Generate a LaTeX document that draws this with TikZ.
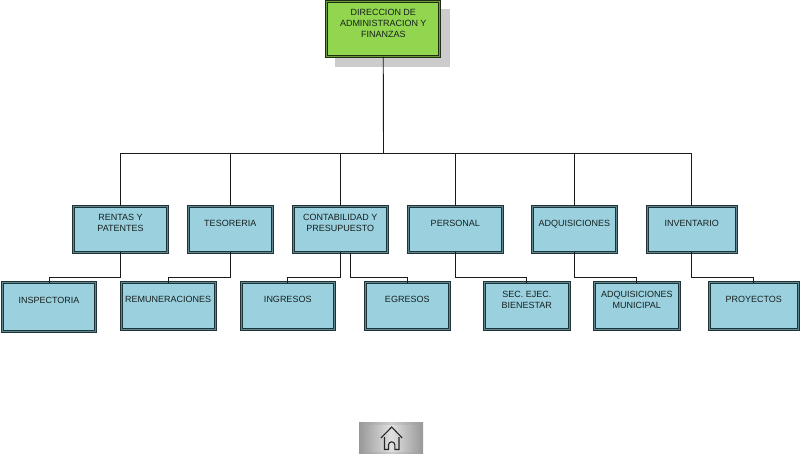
\documentclass[tikz,border=0pt]{standalone}
\usepackage{fontspec}
\setmainfont{Liberation Sans}
\definecolor{bluefill}{HTML}{9BD1DF}
\definecolor{greenfill}{HTML}{92D650}
\definecolor{edgeblue}{HTML}{1F3438}
\definecolor{gapblue}{HTML}{5F8790}
\definecolor{edgegreen}{HTML}{1E2E12}
\definecolor{gapgreen}{HTML}{6E9E3C}
\definecolor{shadowgray}{HTML}{CCCCCC}
\definecolor{linecol}{HTML}{1A1A1A}
\definecolor{textcol}{HTML}{16201F}
\tikzset{
  boxbase/.style={rectangle,inner sep=0pt,outer sep=0pt,line width=1pt,double distance=1pt,text=textcol},
  bluebox/.style={boxbase,draw=edgeblue,double=gapblue,fill=bluefill},
  greenbox/.style={boxbase,draw=edgegreen,double=gapgreen,fill=greenfill},
  wire/.style={draw=linecol,line width=0.9pt},
}
% style, name, x1, y1, x2, y2, baseline offset, text
\newcommand{\orgbox}[8]{%
  \pgfmathsetlengthmacro{\bw}{(#5-#3-2.6)*1pt}%
  \pgfmathsetlengthmacro{\bh}{(#6-#4-2.6)*1pt}%
  \node[#1] (#2) at ({(#3+#5)/2},{(#4+#6)/2})
    {\parbox[c][\bh][t]{\bw}{\fontsize{9pt}{11pt}\selectfont\centering\rule{0pt}{#7pt}#8\par}};%
}
\begin{document}
\begin{tikzpicture}[x=1pt,y=-1pt]
\useasboundingbox (0,0) rectangle (800,454);
\fill[shadowgray] (335,9) rectangle (450,67);
\orgbox{greenbox}{top}{325.5}{0.5}{441}{58}{13.5}{DIRECCION DE\\ADMINISTRACION Y\\FINANZAS}
\orgbox{bluebox}{ren}{72.5}{205}{168.5}{253.5}{14.5}{RENTAS Y\\PATENTES}
\orgbox{bluebox}{tes}{187}{205}{273.5}{253.5}{20}{TESORERIA}
\orgbox{bluebox}{con}{292}{205}{388.5}{253.5}{14.5}{CONTABILIDAD Y\\PRESUPUESTO}
\orgbox{bluebox}{per}{407}{205}{503.5}{253.5}{20}{PERSONAL}
\orgbox{bluebox}{adq}{531}{205}{617.5}{253.5}{20}{ADQUISICIONES}
\orgbox{bluebox}{inv}{646}{205}{737.5}{253.5}{20}{INVENTARIO}
\orgbox{bluebox}{ins}{1}{281.5}{97}{333}{20.5}{INSPECTORIA}
\orgbox{bluebox}{rem}{120}{281.5}{216.5}{330.5}{19.5}{REMUNERACIONES}
\orgbox{bluebox}{ing}{240}{281.5}{335.5}{330.5}{19.5}{INGRESOS}
\orgbox{bluebox}{egr}{364}{281.5}{450.5}{330.5}{19.5}{EGRESOS}
\orgbox{bluebox}{sec}{483}{281.5}{570.5}{330.5}{15}{SEC. EJEC.\\BIENESTAR}
\orgbox{bluebox}{adm}{593}{281.5}{680.5}{330.5}{15}{ADQUISICIONES\\MUNICIPAL}
\orgbox{bluebox}{pro}{708}{281.5}{799.5}{330.5}{19.5}{PROYECTOS}
\coordinate (busj) at (383.5,153);
\coordinate (lowbus) at (0,277);
\coordinate (conr) at (350,253);
\draw[wire] (top.south) -- (busj);
\foreach \n in {ren,tes,con,per,adq,inv}{
  \draw[wire] (busj) -| (\n.north);
}
\draw[wire] (ren.south) |- (lowbus -| ins.north) -- (ins.north);
\draw[wire] (tes.south) |- (lowbus -| rem.north) -- (rem.north);
\draw[wire] (con.south) |- (lowbus -| ing.north) -- (ing.north);
\draw[wire] (conr) |- (lowbus -| egr.north) -- (egr.north);
\draw[wire] (per.south) |- (lowbus -| sec.north) -- (sec.north);
\draw[wire] (adq.south) |- (lowbus -| adm.north) -- (adm.north);
\draw[wire] (inv.south) |- (lowbus -| pro.north) -- (pro.north);
% home button
\fill[left color=black!40,right color=black!40,middle color=black!20] (359,422) rectangle (423,454);
\fill[left color=black!38,right color=black!38,middle color=black!12] (362,425) rectangle (420,451);
\draw[black!85,line width=1.1pt,line join=miter]
  (384.5,437) -- (384.5,449.5) -- (388.5,449.5) -- (388.5,445)
  arc[start angle=180,end angle=360,radius=3.2] -- (394.9,449.5) -- (399,449.5) -- (399,437);
\draw[black!85,line width=1.1pt,line join=miter] (381,438) -- (391.7,427) -- (402.2,438);
\end{tikzpicture}
\end{document}
